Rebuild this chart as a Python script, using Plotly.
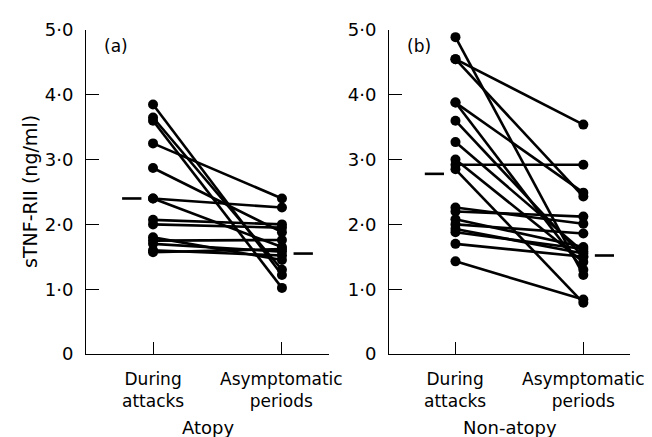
import plotly.graph_objects as go

# ---- data ----
categories = ["During<br>attacks", "Asymptomatic<br>periods"]
y_ticks = [0, 1, 2, 3, 4, 5]
y_tick_labels = ["0", "1·0", "2·0", "3·0", "4·0", "5·0"]

atopy_during = [3.85, 3.65, 3.60, 3.25, 2.87, 2.40, 2.40, 2.07, 2.00, 1.80, 1.75, 1.70, 1.60, 1.57]
atopy_asymp = [1.22, 1.30, 1.02, 2.40, 1.88, 2.26, 1.65, 2.00, 1.95, 1.45, 1.76, 1.58, 1.52, 1.62]
atopy_means = [2.40, 1.55]

nonatopy_during = [4.89, 4.55, 4.55, 3.88, 3.88, 3.60, 3.27, 3.00, 2.92, 2.85, 2.26, 2.20, 2.08, 2.00, 1.93, 1.88, 1.70, 1.43]
nonatopy_asymp = [1.22, 3.54, 2.43, 2.49, 1.30, 1.50, 1.58, 1.42, 2.92, 0.79, 2.01, 2.12, 1.65, 1.86, 1.55, 1.62, 1.50, 0.84]
nonatopy_means = [2.78, 1.52]

panel_labels = ["(a)", "(b)"]
group_titles = ["Atopy", "Non-atopy"]
y_title = "sTNF-RII (ng/ml)"

FONT = "DejaVu Sans"
fig = go.Figure()

panels = [
    (atopy_during, atopy_asymp, atopy_means, "x", "y"),
    (nonatopy_during, nonatopy_asymp, nonatopy_means, "x2", "y2"),
]
pos = [0, 1]
for during, asymp, means, xa, ya in panels:
    for d, a in zip(during, asymp):
        fig.add_trace(go.Scatter(
            x=pos, y=[d, a], mode="lines+markers",
            line=dict(color="black", width=2.6),
            marker=dict(color="black", size=10),
            xaxis=xa, yaxis=ya, showlegend=False, hoverinfo="skip"))
    # mean dashes
    fig.add_trace(go.Scatter(
        x=[pos[0] - 0.24, pos[0] - 0.09], y=[means[0], means[0]], mode="lines",
        line=dict(color="black", width=2.6), xaxis=xa, yaxis=ya, showlegend=False))
    fig.add_trace(go.Scatter(
        x=[pos[1] + 0.09, pos[1] + 0.24], y=[means[1], means[1]], mode="lines",
        line=dict(color="black", width=2.6), xaxis=xa, yaxis=ya, showlegend=False))

# page body offsets the figure by 8 px
OFF = 8
W, H = 652 - OFF, 437 - OFF
ml, mr, mt, mb = 86 - OFF, 22, 30 - OFF, (437 - 354)
pw = W - ml - mr
ph = H - mt - mb

xcommon = dict(range=[-0.52, 1.365], tickvals=pos, ticktext=["", ""],
               ticks="inside", ticklen=12, tickcolor="black", tickwidth=1,
               showline=True, linecolor="black", linewidth=1,
               showgrid=False, zeroline=False, fixedrange=True)
ycommon = dict(range=[0, 5], tickvals=y_ticks, ticktext=y_tick_labels,
               ticks="inside", ticklen=13, tickcolor="black", tickwidth=1,
               showline=True, linecolor="black", linewidth=1,
               showgrid=False, zeroline=False, fixedrange=True,
               tickfont=dict(family=FONT, size=18, color="black"),
               ticklabelstandoff=8)

d1 = [0, (329 - 86) / pw]
d2 = [(389 - 86) / pw, 1]
fig.update_layout(
    width=W, height=H,
    margin=dict(l=ml, r=mr, t=mt, b=mb),
    paper_bgcolor="white", plot_bgcolor="white",
    xaxis=dict(domain=d1, anchor="y", **xcommon),
    yaxis=dict(domain=[0, 1], anchor="x", **ycommon),
    xaxis2=dict(domain=d2, anchor="y2", **xcommon),
    yaxis2=dict(domain=[0, 1], anchor="x2", **ycommon),
    font=dict(family=FONT, size=18, color="black"),
)

def py(window_y):
    return -(window_y - 354) / ph

annots = []
for xa in ["x", "x2"]:
    for p, cat in zip(pos, categories):
        annots.append(dict(text=cat, x=p, y=py(390), xref=xa, yref="paper",
                           xanchor="center", yanchor="middle", align="center",
                           showarrow=False, borderpad=0,
                           font=dict(family=FONT, size=17, color="black")))
for lab, dom in zip(panel_labels, [d1, d2]):
    annots.append(dict(text=lab, x=dom[0] + 16 / pw, y=1 - 16 / ph, xref="paper", yref="paper",
                       xanchor="left", yanchor="middle", showarrow=False,
                       font=dict(family=FONT, size=17, color="black")))
for lab, dom in zip(group_titles, [d1, d2]):
    annots.append(dict(text=lab, x=(dom[0] + dom[1]) / 2, y=py(428),
                       xref="paper", yref="paper", xanchor="center", yanchor="middle",
                       showarrow=False, borderpad=0,
                       font=dict(family=FONT, size=18, color="black")))
annots.append(dict(text=y_title, x=-(86 - 30) / pw, y=0.5, xref="paper", yref="paper",
                   xanchor="center", yanchor="middle", textangle=-90, showarrow=False,
                   font=dict(family=FONT, size=19, color="black")))
fig.update_layout(annotations=annots)

fig.write_html("out.html")
